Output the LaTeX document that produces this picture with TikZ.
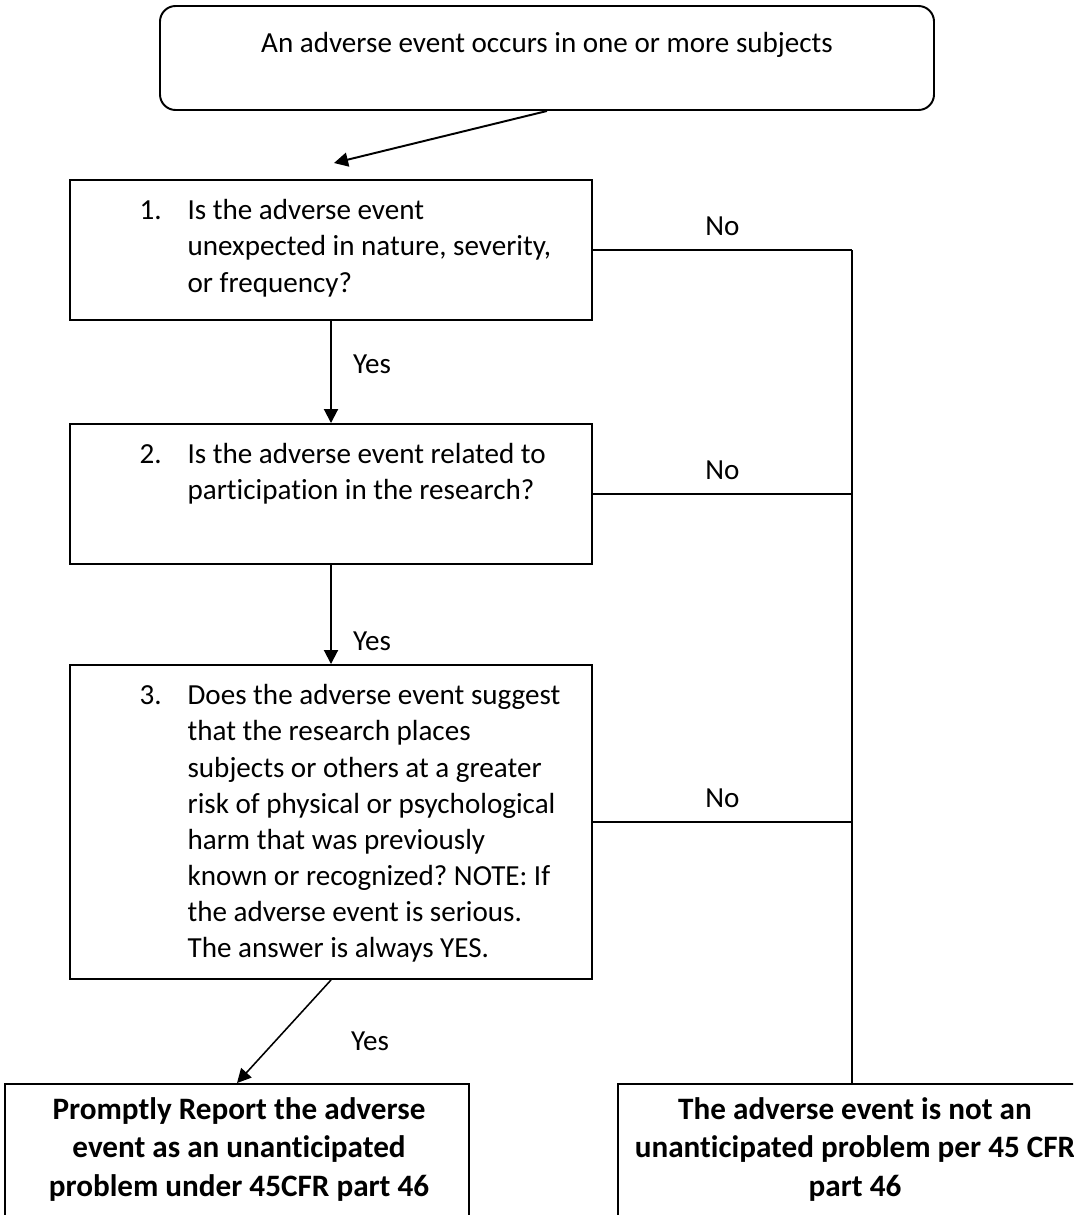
\documentclass[tikz,border=0pt]{standalone}
\usepackage{fontspec}
\setmainfont{Carlito}[Ligatures={NoCommon}]
\frenchspacing
\usetikzlibrary{calc,arrows.meta}
\newcommand{\pxlen}{0.385pt}
\tikzstyle{startbox}=[draw=black,line width=0.75pt,rounded corners=6pt,minimum width=774*\pxlen,minimum height=104*\pxlen,inner sep=0pt]
\tikzstyle{qbox}=[draw=black,line width=0.75pt,minimum width=522*\pxlen,inner sep=0pt]
\tikzstyle{endbox}=[draw=black,line width=0.75pt,minimum height=176*\pxlen,inner sep=0pt]
\tikzstyle{qtext}=[inner sep=0pt,font=\fontsize{11.2}{13.9}\selectfont]
\tikzstyle{endtext}=[inner sep=0pt,anchor=north,font=\fontsize{12}{14.8}\selectfont\bfseries]
\tikzstyle{answer}=[font=\fontsize{11.2}{13.9}\selectfont]
\tikzstyle{flow}=[->,line width=0.75pt]
\tikzstyle{nobranch}=[line width=0.5pt]

\begin{document}
\begin{tikzpicture}[x=\pxlen,y=-\pxlen,>={Triangle[length=5.4pt,width=5.4pt]}]

  \useasboundingbox (0,0) rectangle (1073,1215);
  \clip (0,0) rectangle (1073,1215);

  % BOXES
  \node[startbox] (start) at (547,58) {};
  \node[qbox,minimum height=140*\pxlen] (q1) at (331,250) {};
  \node[qbox,minimum height=140*\pxlen] (q2) at (331,494) {};
  \node[qbox,minimum height=314*\pxlen] (q3) at (331,822) {};
  \node[endbox,minimum width=464*\pxlen] (report) at (237,1172) {};
  \node[endbox,minimum width=468*\pxlen] (notup) at (852,1172) {};

  % TEXTS
  \node[qtext,anchor=base] (starttxt) at (547,53) {An adverse event occurs in one or more subjects};
  \node[qtext,anchor=north west] (q1txt) at ($(q1.north west)+(70,15)$) {%
    \begin{tabular}{@{}p{18.5pt}@{}l@{}}
      1. & Is the adverse event\\
         & unexpected in nature, severity,\\
         & or frequency?
    \end{tabular}};
  \node[qtext,anchor=north west] (q2txt) at ($(q2.north west)+(70,15)$) {%
    \begin{tabular}{@{}p{18.5pt}@{}l@{}}
      2. & Is the adverse event related to\\
         & participation in the research?
    \end{tabular}};
  \node[qtext,anchor=north west] (q3txt) at ($(q3.north west)+(70,15)$) {%
    \begin{tabular}{@{}p{18.5pt}@{}l@{}}
      3. & Does the adverse event suggest\\
         & that the research places\\
         & subjects or others at a greater\\
         & risk of physical or psychological\\
         & harm that was previously\\
         & known or recognized? NOTE: If\\
         & the adverse event is serious.\\
         & The answer is always YES.
    \end{tabular}};
  \node[endtext] (reporttxt) at ($(report.north)+(2,9)$) {%
    \begin{tabular}{@{}c@{}}
      Promptly Report the adverse\\
      event as an unanticipated\\
      problem under 45CFR part 46
    \end{tabular}};
  \node[endtext] (notuptxt) at ($(notup.north)+(3,9)$) {%
    \begin{tabular}{@{}c@{}}
      The adverse event is not an\\
      unanticipated problem per 45 CFR\\
      part 46
    \end{tabular}};

  % YES CONNECTORS
  \coordinate (q1in) at (334,163);
  \draw[flow] (start.south) -- (q1in);
  \draw[flow] (q1.south) -- (q2.north) node[answer,pos=0.42,right=4.8pt] (yes1) {Yes};
  \draw[flow] (q2.south) -- (q3.north) node[answer,pos=0.77,right=4.8pt] (yes2) {Yes};
  \draw[flow,line width=0.6pt] (q3.south) -- (report.north);
  \node[answer] (yes3) at (370,1041) {Yes};

  % NO CONNECTORS
  \coordinate (bus1) at (852,250);
  \coordinate (bus2) at (852,494);
  \coordinate (bus3) at (852,822);
  \draw[nobranch] (q1.east) -- (bus1) node[answer,midway,above=1.8pt] (no1) {No};
  \draw[nobranch] (q2.east) -- (bus2) node[answer,midway,above=1.8pt] (no2) {No};
  \draw[nobranch] (q3.east) -- (bus3) node[answer,midway,above=1.8pt] (no3) {No};
  \draw[nobranch] (bus1) -- (notup.north);

\end{tikzpicture}
\end{document}
